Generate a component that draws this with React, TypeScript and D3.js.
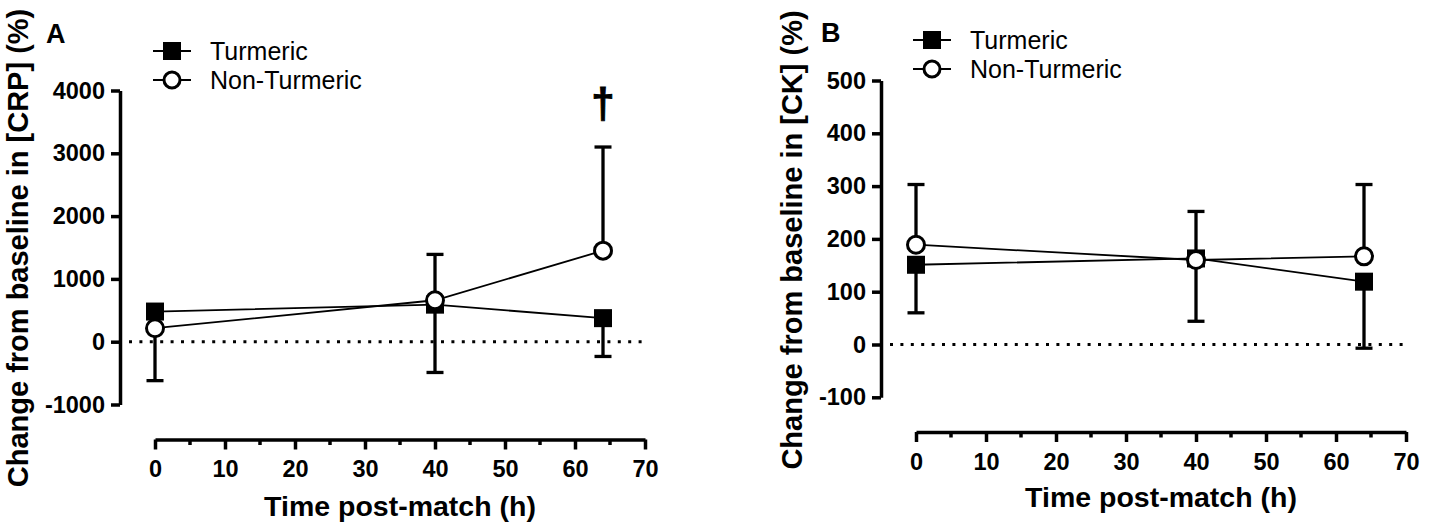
import { useEffect, useRef } from 'react'
import * as d3 from 'd3'

// sampling times (h post-match)
const times = [0, 40, 64]

// panel A: change in CRP (%)
const crpTurmeric = [480, 590, 375]
const crpTurmericLow = [-620, -490, -235]
const crpNonTurmeric = [215, 660, 1450]
const crpNonTurmericHigh: (number | null)[] = [null, 1390, 3100]

// panel B: change in CK (%)
const ckTurmeric = [151, 163, 119]
const ckTurmericLow = [60, 44, -7]
const ckNonTurmeric = [189, 160, 167]
const ckNonTurmericHigh = [303, 252, 303]

const xTicks = [0, 10, 20, 30, 40, 50, 60, 70]
const xMinorTicks = [5, 15, 25, 35, 45, 55, 65]
const crpTicks = [-1000, 0, 1000, 2000, 3000, 4000]
const ckTicks = [-100, 0, 100, 200, 300, 400, 500]

const seriesNames = ['Turmeric', 'Non-Turmeric']

const FONT = '"Liberation Sans", Arial, Helvetica, sans-serif'

interface PanelSpec {
  letter: string
  letterX: number
  letterY: number
  yTitle: string
  yTitleX: number
  yTitleY: number
  yDomain: [number, number]
  yTicks: number[]
  yTop: number
  yBottom: number
  yAxisX: number
  xLeft: number
  xRight: number
  xAxisY: number
  xTitleY: number
  legendX: number
  legendY: number
  turmeric: number[]
  turmericLow: (number | null)[]
  nonTurmeric: number[]
  nonTurmericHigh: (number | null)[]
  dagger?: number
}

const panels: PanelSpec[] = [
  {
    letter: 'A', letterX: 46, letterY: 43,
    yTitle: 'Change from baseline in [CRP] (%)', yTitleX: 28, yTitleY: 248,
    yDomain: [-1000, 4000], yTicks: crpTicks, yTop: 90.5, yBottom: 404.5, yAxisX: 120,
    xLeft: 155, xRight: 645, xAxisY: 439.5, xTitleY: 516,
    legendX: 172, legendY: 51,
    turmeric: crpTurmeric, turmericLow: crpTurmericLow,
    nonTurmeric: crpNonTurmeric, nonTurmericHigh: crpNonTurmericHigh,
    dagger: 64,
  },
  {
    letter: 'B', letterX: 821, letterY: 42,
    yTitle: 'Change from baseline in [CK] (%)', yTitleX: 802, yTitleY: 240,
    yDomain: [-100, 500], yTicks: ckTicks, yTop: 80.5, yBottom: 397.3, yAxisX: 881,
    xLeft: 916, xRight: 1406, xAxisY: 432, xTitleY: 507,
    legendX: 932, legendY: 40,
    turmeric: ckTurmeric, turmericLow: ckTurmericLow,
    nonTurmeric: ckNonTurmeric, nonTurmericHigh: ckNonTurmericHigh,
  },
]

function drawPanel(svg: d3.Selection<SVGSVGElement, unknown, null, undefined>, p: PanelSpec) {
  const g = svg.append('g').attr('font-family', FONT)

  const x = d3.scaleLinear().domain([0, 70]).range([p.xLeft, p.xRight])
  const y = d3.scaleLinear().domain(p.yDomain).range([p.yBottom, p.yTop])

  // y axis
  const yAxis = g.append('g')
    .attr('transform', `translate(${p.yAxisX},0)`)
    .call(d3.axisLeft(y).tickValues(p.yTicks).tickSize(9).tickSizeOuter(0).tickPadding(6).tickFormat(d => String(d)))
  yAxis.select('.domain').attr('stroke-width', 3.5)
  yAxis.selectAll('.tick line').attr('stroke-width', 3.5)
  yAxis.selectAll('.tick text')
    .attr('font-size', 23.5).attr('font-weight', 'bold').attr('font-family', FONT).attr('fill', '#000')

  // x axis (offset below the plot)
  const xAxis = g.append('g')
    .attr('transform', `translate(0,${p.xAxisY})`)
    .call(d3.axisBottom(x).tickValues(xTicks).tickSize(10).tickSizeOuter(0).tickPadding(11))
  xAxis.select('.domain').attr('stroke-width', 3.5)
  xAxis.selectAll('.tick line').attr('stroke-width', 3.5)
  xAxis.selectAll('.tick text')
    .attr('font-size', 23.5).attr('font-weight', 'bold').attr('font-family', FONT).attr('fill', '#000')
  xAxis.selectAll('.minor')
    .data(xMinorTicks)
    .join('line')
    .attr('x1', d => x(d)).attr('x2', d => x(d))
    .attr('y1', 0).attr('y2', 5.5)
    .attr('stroke', '#000').attr('stroke-width', 3.5)

  // axis titles
  g.append('text')
    .attr('x', (p.xLeft + p.xRight) / 2).attr('y', p.xTitleY)
    .attr('text-anchor', 'middle').attr('font-size', 28.5).attr('font-weight', 'bold')
    .text('Time post-match (h)')

  g.append('text')
    .attr('transform', `translate(${p.yTitleX},${p.yTitleY}) rotate(-90)`)
    .attr('text-anchor', 'middle').attr('font-size', 29).attr('font-weight', 'bold')
    .text(p.yTitle)

  g.append('text')
    .attr('x', p.letterX).attr('y', p.letterY)
    .attr('font-size', 27).attr('font-weight', 'bold')
    .text(p.letter)

  // dotted zero line
  g.append('line')
    .attr('x1', p.yAxisX + 9).attr('x2', x(70))
    .attr('y1', y(0)).attr('y2', y(0))
    .attr('stroke', '#000').attr('stroke-width', 3)
    .attr('stroke-dasharray', '3 7.4')

  // error bars (one-sided: Turmeric down, Non-Turmeric up)
  const bars: { t: number; v: number; e: number }[] = []
  times.forEach((t, i) => {
    const lo = p.turmericLow[i]
    if (lo != null) bars.push({ t, v: p.turmeric[i], e: lo })
    const hi = p.nonTurmericHigh[i]
    if (hi != null) bars.push({ t, v: p.nonTurmeric[i], e: hi })
  })
  const eb = g.append('g').attr('stroke', '#000').attr('stroke-width', 3.3)
  eb.selectAll('line.stem')
    .data(bars)
    .join('line')
    .attr('class', 'stem')
    .attr('x1', d => x(d.t)).attr('x2', d => x(d.t))
    .attr('y1', d => y(d.v)).attr('y2', d => y(d.e))
  eb.selectAll('line.cap')
    .data(bars)
    .join('line')
    .attr('class', 'cap')
    .attr('x1', d => x(d.t) - 8.5).attr('x2', d => x(d.t) + 8.5)
    .attr('y1', d => y(d.e)).attr('y2', d => y(d.e))

  // connecting lines
  const line = d3.line<number>().x((_, i) => x(times[i])).y(d => y(d))
  g.append('path').attr('d', line(p.turmeric)).attr('fill', 'none').attr('stroke', '#000').attr('stroke-width', 1.8)
  g.append('path').attr('d', line(p.nonTurmeric)).attr('fill', 'none').attr('stroke', '#000').attr('stroke-width', 1.8)

  // markers
  g.selectAll('rect.turm')
    .data(p.turmeric)
    .join('rect')
    .attr('class', 'turm')
    .attr('x', (_, i) => x(times[i]) - 9).attr('y', d => y(d) - 9)
    .attr('width', 18).attr('height', 18)
    .attr('fill', '#000')
  g.selectAll('circle.non')
    .data(p.nonTurmeric)
    .join('circle')
    .attr('class', 'non')
    .attr('cx', (_, i) => x(times[i])).attr('cy', d => y(d))
    .attr('r', 8.5)
    .attr('fill', '#fff').attr('stroke', '#000').attr('stroke-width', 3)

  if (p.dagger != null) {
    g.append('text')
      .attr('x', x(p.dagger)).attr('y', 118)
      .attr('text-anchor', 'middle').attr('font-size', 42).attr('font-weight', 'bold')
      .attr('stroke', '#000').attr('stroke-width', 0.8)
      .text('\u2020')
  }

  // legend
  seriesNames.forEach((name, i) => {
    const ly = p.legendY + i * 29
    const lg = g.append('g')
    lg.append('line')
      .attr('x1', p.legendX - 19).attr('x2', p.legendX + 19)
      .attr('y1', ly).attr('y2', ly)
      .attr('stroke', '#000').attr('stroke-width', 2)
    if (i === 0) {
      lg.append('rect')
        .attr('x', p.legendX - 9).attr('y', ly - 9)
        .attr('width', 18).attr('height', 18).attr('fill', '#000')
    } else {
      lg.append('circle')
        .attr('cx', p.legendX).attr('cy', ly).attr('r', 8)
        .attr('fill', '#fff').attr('stroke', '#000').attr('stroke-width', 3)
    }
    lg.append('text')
      .attr('x', p.legendX + 38).attr('y', ly + 8.6)
      .attr('font-size', 25)
      .text(name)
  })
}

export default function App() {
  const svgRef = useRef<SVGSVGElement>(null)

  useEffect(() => {
    if (!svgRef.current) return
    const svg = d3.select(svgRef.current)
    svg.selectAll('*').remove()
    panels.forEach(p => drawPanel(svg, p))
  }, [])

  return (
    <svg
      ref={svgRef}
      width={1430}
      height={529}
      style={{ position: 'absolute', left: 0, top: 0, background: '#fff' }}
    />
  )
}
